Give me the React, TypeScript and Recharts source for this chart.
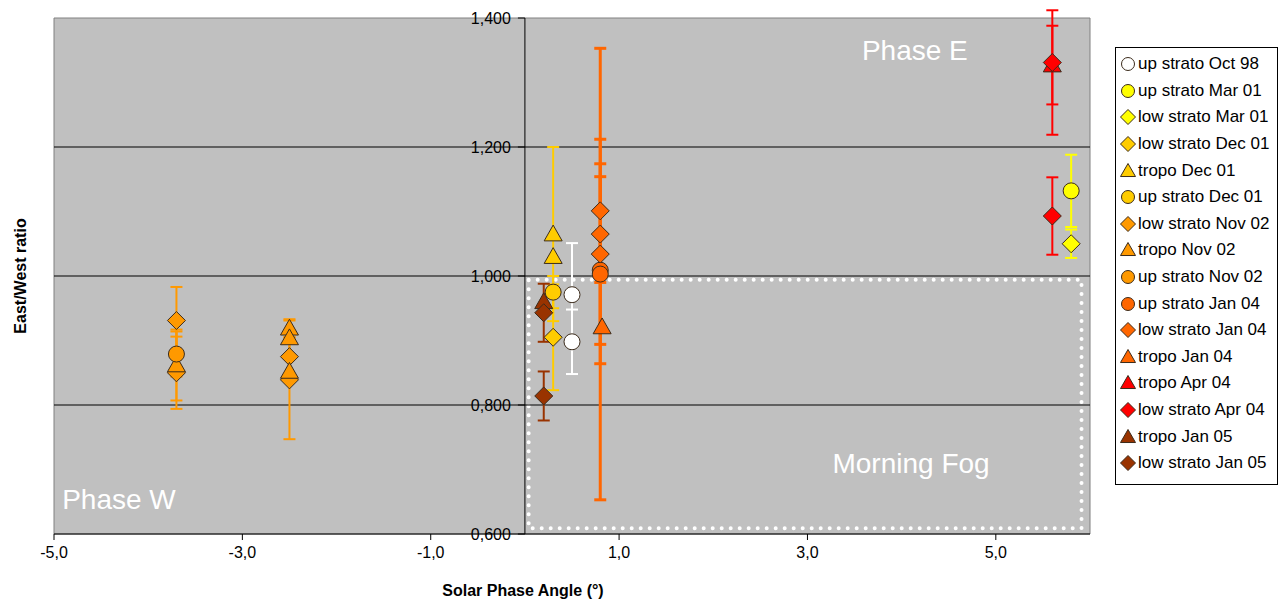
import React from 'react';
import {
  ScatterChart,
  Scatter,
  XAxis,
  YAxis,
  CartesianGrid,
  ErrorBar,
  ReferenceArea,
  ReferenceLine,
  ReferenceDot,
} from 'recharts';

// x = solar phase angle (deg), y = east/west ratio, err = y error (+/-, or [low, high])
const upStratoOct98 = [
  { x: 0.5, y: 0.971, err: 0.08 },
  { x: 0.5, y: 0.898, err: 0.05 },
];
const upStratoMar01 = [{ x: 5.8, y: 1.132, err: 0.056 }];
const lowStratoMar01 = [{ x: 5.8, y: 1.05, err: 0.022 }];
const lowStratoDec01 = [{ x: 0.3, y: 0.905, err: 0.082 }];
const tropoDec01 = [
  { x: 0.3, y: 1.065, err: 0.135 },
  { x: 0.3, y: 1.03, err: 0 },
];
const upStratoDec01 = [{ x: 0.3, y: 0.975, err: 0.025 }];
const lowStratoNov02 = [
  { x: -3.7, y: 0.931, err: 0.052 },
  { x: -3.7, y: 0.85, err: 0.056 },
  { x: -2.5, y: 0.875, err: 0.03 },
  { x: -2.5, y: 0.839, err: 0.092 },
];
const tropoNov02 = [
  { x: -3.7, y: 0.862, err: 0.055 },
  { x: -2.5, y: 0.919, err: 0.014 },
  { x: -2.5, y: 0.904, err: 0 },
  { x: -2.5, y: 0.852, err: 0 },
];
const upStratoNov02 = [{ x: -3.7, y: 0.879, err: 0.035 }];
const upStratoJan04 = [
  { x: 0.8, y: 1.009, err: 0.145 },
  { x: 0.8, y: 1.003, err: 0.35 },
];
const lowStratoJan04 = [
  { x: 0.8, y: 1.101, err: 0.111 },
  { x: 0.8, y: 1.065, err: 0 },
  { x: 0.8, y: 1.034, err: 0.14 },
];
const tropoJan04 = [{ x: 0.82, y: 0.921, err: 0 }];
const tropoApr04 = [{ x: 5.6, y: 1.327, err: 0.061 }];
const lowStratoApr04 = [
  { x: 5.6, y: 1.331, err: [0.112, 0.081] },
  { x: 5.6, y: 1.093, err: 0.06 },
];
const tropoJan05 = [{ x: 0.2, y: 0.96, err: 0 }];
const lowStratoJan05 = [
  { x: 0.2, y: 0.943, err: 0.045 },
  { x: 0.2, y: 0.814, err: 0.038 },
];

const xTicks = [-5, -3, -1, 1, 3, 5];
const yTicks = [0.6, 0.8, 1.0, 1.2, 1.4];
const gridValues = [0.8, 1.0, 1.2];

const notes = [
  { x: 4.14, y: 1.35, text: 'Phase E' },
  { x: 4.1, y: 0.71, text: 'Morning Fog' },
  { x: -4.31, y: 0.653, text: 'Phase W' },
];

type Kind = 'circle' | 'diamond' | 'triangle';

const series: { name: string; kind: Kind; color: string; data: any[]; bw?: number }[] = [
  { name: 'up strato Oct 98', kind: 'circle', color: '#FFFFFF', data: upStratoOct98 },
  { name: 'up strato Mar 01', kind: 'circle', color: '#FFFF00', data: upStratoMar01 },
  { name: 'low strato Mar 01', kind: 'diamond', color: '#FFFF00', data: lowStratoMar01 },
  { name: 'low strato Dec 01', kind: 'diamond', color: '#FFCC00', data: lowStratoDec01 },
  { name: 'tropo Dec 01', kind: 'triangle', color: '#FFCC00', data: tropoDec01 },
  { name: 'up strato Dec 01', kind: 'circle', color: '#FFCC00', data: upStratoDec01 },
  { name: 'low strato Nov 02', kind: 'diamond', color: '#FF9900', data: lowStratoNov02 },
  { name: 'tropo Nov 02', kind: 'triangle', color: '#FF9900', data: tropoNov02 },
  { name: 'up strato Nov 02', kind: 'circle', color: '#FF9900', data: upStratoNov02 },
  { name: 'up strato Jan 04', kind: 'circle', color: '#FF6600', data: upStratoJan04, bw: 3 },
  { name: 'low strato Jan 04', kind: 'diamond', color: '#FF6600', data: lowStratoJan04, bw: 3 },
  { name: 'tropo Jan 04', kind: 'triangle', color: '#FF6600', data: tropoJan04, bw: 3 },
  { name: 'tropo Apr 04', kind: 'triangle', color: '#FF0000', data: tropoApr04 },
  { name: 'low strato Apr 04', kind: 'diamond', color: '#FF0000', data: lowStratoApr04 },
  { name: 'tropo Jan 05', kind: 'triangle', color: '#993300', data: tropoJan05 },
  { name: 'low strato Jan 05', kind: 'diamond', color: '#993300', data: lowStratoJan05 },
];

const FONT = '"Liberation Sans", Arial, sans-serif';
const OUTLINE = '#3b2b1b';

function marker(kind: Kind, cx: number, cy: number, s: number, fill: string) {
  if (kind === 'circle') {
    return <circle cx={cx} cy={cy} r={s} fill={fill} stroke={OUTLINE} strokeWidth={1} />;
  }
  if (kind === 'diamond') {
    const pts = `${cx},${cy - s - 1} ${cx + s + 1},${cy} ${cx},${cy + s + 1} ${cx - s - 1},${cy}`;
    return <polygon points={pts} fill={fill} stroke={OUTLINE} strokeWidth={1} />;
  }
  const pts = `${cx},${cy - s - 1} ${cx + s + 1},${cy + s * 0.85} ${cx - s - 1},${cy + s * 0.85}`;
  return <polygon points={pts} fill={fill} stroke={OUTLINE} strokeWidth={1} />;
}

const fmtX = (v: number) => v.toFixed(1).replace('.', ',');
const fmtY = (v: number) => v.toFixed(3).replace('.', ',');

const LegendBox = () => (
  <div
    style={{
      position: 'absolute',
      left: 1115,
      top: 47,
      border: '1px solid #000',
      background: '#fff',
      padding: '3px 4px 7px 4px',
      fontFamily: FONT,
      fontSize: 17,
      color: '#000',
      width: 153,
    }}
  >
    {series.map((s) => (
      <div key={s.name} style={{ display: 'flex', alignItems: 'center', height: 26.6, whiteSpace: 'nowrap' }}>
        <svg width={16} height={16} style={{ marginRight: 2 }}>
          {marker(s.kind, 8, 8, 6.5, s.color)}
        </svg>
        <span>{s.name}</span>
      </div>
    ))}
  </div>
);

export default function App() {
  return (
    <div style={{ position: 'absolute', left: 0, top: 0, width: 1282, height: 605, background: '#fff', fontFamily: FONT }}>
      <ScatterChart width={1282} height={605} margin={{ top: 18, right: 192, bottom: 0, left: 0 }}>
        <CartesianGrid fill="#C0C0C0" fillOpacity={1} horizontal={false} vertical={false} />
        <XAxis
          type="number"
          dataKey="x"
          domain={[-5, 6]}
          allowDataOverflow
          ticks={xTicks}
          tickFormatter={fmtX}
          height={71}
          tickSize={6}
          tickMargin={7}
          stroke="#000"
          tick={{ fill: '#000', fontSize: 16 }}
          label={({ viewBox }: any) => (
            <text
              x={viewBox.x + viewBox.width / 2 - 49}
              y={viewBox.y + viewBox.height - 9}
              textAnchor="middle"
              fontSize={16}
              fontWeight="bold"
              fill="#000"
            >
              Solar Phase Angle (°)
            </text>
          )}
        />
        <YAxis
          type="number"
          dataKey="y"
          domain={[0.6, 1.4]}
          allowDataOverflow
          width={54}
          tick={false}
          tickLine={false}
          axisLine={false}
          label={({ viewBox }: any) => {
            const cx = viewBox.x + 20;
            const cy = viewBox.y + viewBox.height / 2;
            return (
              <text
                x={cx}
                y={cy}
                transform={`rotate(-90 ${cx} ${cy})`}
                textAnchor="middle"
                dominantBaseline="central"
                fontSize={16}
                fontWeight="bold"
                fill="#000"
              >
                East/West ratio
              </text>
            );
          }}
        />
        <ReferenceArea x1={-5} x2={6} y1={0.6} y2={1.4} fill="none" stroke="#808080" strokeWidth={1} />
        {gridValues.map((v) => (
          <ReferenceLine key={v} y={v} stroke="#000" strokeWidth={1} />
        ))}
        <ReferenceLine x={0} stroke="#000" strokeWidth={1} />
        <ReferenceArea
          x1={0.04}
          x2={5.91}
          y1={0.609}
          y2={0.994}
          fill="none"
          stroke="#FFFFFF"
          strokeWidth={4}
          strokeDasharray="0 9"
          strokeLinecap="round"
        />
        {yTicks.map((v) => (
          <ReferenceDot
            key={v}
            x={0}
            y={v}
            r={0}
            shape={(p: any) => (
              <g>
                <line x1={p.cx - 7} y1={p.cy} x2={p.cx} y2={p.cy} stroke="#000" />
                <text x={p.cx - 14} y={p.cy} textAnchor="end" dominantBaseline="central" fontSize={16} fill="#000">
                  {fmtY(v)}
                </text>
              </g>
            )}
          />
        ))}
        {notes.map((n) => (
          <ReferenceDot
            key={n.text}
            x={n.x}
            y={n.y}
            r={0}
            shape={(p: any) => (
              <text x={p.cx} y={p.cy} textAnchor="middle" dominantBaseline="central" fontSize={28} fill="#FFFFFF">
                {n.text}
              </text>
            )}
          />
        ))}
        {series.map((s) => (
          <Scatter
            key={s.name}
            name={s.name}
            data={s.data}
            fill={s.color}
            isAnimationActive={false}
            shape={(p: any) => marker(s.kind, p.cx, p.cy, 8, s.color)}
          >
            <ErrorBar
              dataKey="err"
              direction="y"
              width={6}
              stroke={s.color}
              strokeWidth={s.bw ?? 2}
              isAnimationActive={false}
            />
          </Scatter>
        ))}
      </ScatterChart>
      <LegendBox />
    </div>
  );
}
